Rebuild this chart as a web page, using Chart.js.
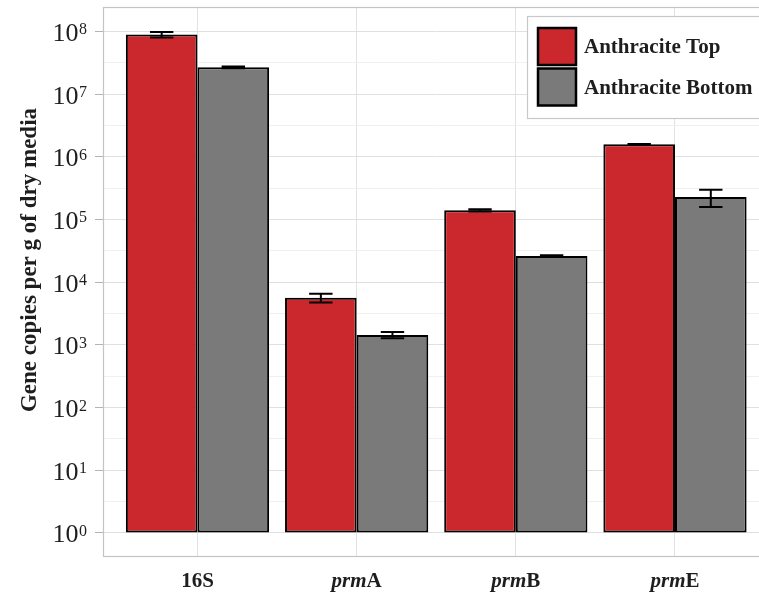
<!DOCTYPE html>
<html>
<head>
<meta charset="utf-8">
<script src="https://cdn.jsdelivr.net/npm/chart.js@4.4.1/dist/chart.umd.min.js"></script>
<style>
    html, body { margin: 0; padding: 0; background: #fff; overflow: hidden; }
    #wrap { position: relative; width: 780px; height: 595px; }
</style>
</head>
<body>
<div id="wrap"><canvas id="chart"></canvas></div>
<script>
(function () {
    "use strict";

    // data
    const categories = ["16S", "prmA", "prmB", "prmE"];
    const seriesNames = ["Anthracite Top", "Anthracite Bottom"];
    const topValues = [8.9e7, 5650, 1.40e5, 1.58e6];
    const topErrors = [9.0e6, 900, 6.0e3, 1.5e4];
    const bottomValues = [2.67e7, 1440, 2.62e4, 2.28e5];
    const bottomErrors = [8.0e5, 160, 650, 7.0e4];
    const yExponents = [0, 1, 2, 3, 4, 5, 6, 7, 8];

    const RED = "#cb282d";
    const GREY = "#7a7a7a";
    const SERIF = '"Liberation Serif", "DejaVu Serif", serif';
    const TEXT = "#1e1e1e";

    const toPoints = (vals) => vals.map((v, i) => ({ x: i + 1, y: v }));
    const errorsBySeries = [topErrors, bottomErrors];
    const valuesBySeries = [topValues, bottomValues];
    const colors = [RED, GREY];

    // major ticks at each decade, minor ones half way (log space)
    const yTicks = [];
    yExponents.forEach((e, i) => {
        yTicks.push({ value: Math.pow(10, e), major: true });
        if (i < yExponents.length - 1) yTicks.push({ value: Math.pow(10, e + 0.5), major: false });
    });

    const overlay = {
        id: "overlay",
        afterDatasetsDraw(chart) {
            const ctx = chart.ctx;
            const yScale = chart.scales.y;
            ctx.save();
            ctx.strokeStyle = "#000";
            ctx.lineWidth = 2;
            valuesBySeries.forEach((vals, d) => {
                const meta = chart.getDatasetMeta(d);
                vals.forEach((v, j) => {
                    const e = errorsBySeries[d][j];
                    const x = meta.data[j].x;
                    const y1 = yScale.getPixelForValue(v + e);
                    const y2 = yScale.getPixelForValue(v - e);
                    ctx.beginPath();
                    ctx.moveTo(x, y1); ctx.lineTo(x, y2);
                    ctx.moveTo(x - 11.7, y1); ctx.lineTo(x + 11.7, y1);
                    ctx.moveTo(x - 11.7, y2); ctx.lineTo(x + 11.7, y2);
                    ctx.stroke();
                });
            });
            ctx.restore();
        },
        afterDraw(chart) {
            const ctx = chart.ctx;
            const a = chart.chartArea;
            const xScale = chart.scales.x;
            const yScale = chart.scales.y;
            ctx.save();

            // panel border
            ctx.strokeStyle = "#c4c4c4";
            ctx.lineWidth = 1.2;
            ctx.strokeRect(a.left + 0.5, a.top + 0.5, a.right - a.left - 1, a.bottom - a.top - 1);

            // y tick labels 10^n
            ctx.fillStyle = TEXT;
            ctx.textBaseline = "alphabetic";
            yExponents.forEach((e) => {
                const y = yScale.getPixelForValue(Math.pow(10, e));
                ctx.font = "16px " + SERIF;
                const expW = ctx.measureText(String(e)).width;
                const expX = 87 - expW;
                ctx.textAlign = "left";
                ctx.fillText(String(e), expX, y + 3);
                ctx.font = "26px " + SERIF;
                ctx.textAlign = "right";
                ctx.fillText("10", expX - 0.5, y + 9.5);
            });

            // x labels, gene prefix in italics
            ctx.textAlign = "left";
            categories.forEach((c, i) => {
                const x = xScale.getPixelForValue(i + 1);
                const parts = c.indexOf("prm") === 0
                    ? [["prm", "italic bold 21px " + SERIF], [c.slice(3), "bold 21px " + SERIF]]
                    : [[c, "bold 21px " + SERIF]];
                let total = 0;
                parts.forEach((p) => { ctx.font = p[1]; total += ctx.measureText(p[0]).width; });
                let cx = x - total / 2;
                parts.forEach((p) => {
                    ctx.font = p[1];
                    ctx.fillText(p[0], cx, 587);
                    cx += ctx.measureText(p[0]).width;
                });
            });

            // y title
            ctx.save();
            ctx.translate(30, 260);
            ctx.rotate(-Math.PI / 2);
            ctx.textAlign = "center";
            ctx.textBaseline = "middle";
            ctx.font = "bold 23px " + SERIF;
            ctx.fillText("Gene copies per g of dry media", 0, 0);
            ctx.restore();

            // legend inside the panel
            ctx.fillStyle = "#fff";
            ctx.fillRect(527, 16, 260, 102);
            ctx.strokeStyle = "#c8c8c8";
            ctx.lineWidth = 1.2;
            ctx.strokeRect(527.5, 16.5, 260, 102);
            seriesNames.forEach((name, s) => {
                const ky = 28 + s * 40.5;
                ctx.fillStyle = colors[s];
                ctx.fillRect(538, ky, 38, 37);
                ctx.strokeStyle = "#000";
                ctx.lineWidth = 2.5;
                ctx.strokeRect(538, ky, 38, 37);
                ctx.fillStyle = TEXT;
                ctx.font = "bold 21px " + SERIF;
                ctx.textAlign = "left";
                ctx.textBaseline = "alphabetic";
                ctx.fillText(name, 584, 53 + s * 40.5);
            });

            ctx.restore();
        }
    };

    new Chart(document.getElementById("chart"), {
        type: "bar",
        data: {
            datasets: [
                {
                    label: seriesNames[0],
                    data: toPoints(topValues),
                    backgroundColor: RED,
                    borderColor: "#000",
                    borderWidth: 2,
                    borderSkipped: false,
                    base: 1,
                },
                {
                    label: seriesNames[1],
                    data: toPoints(bottomValues),
                    backgroundColor: GREY,
                    borderColor: "#000",
                    borderWidth: 2,
                    borderSkipped: false,
                    base: 1,
                },
            ],
        },
        options: {
            responsive: true,
            maintainAspectRatio: false,
            animation: false,
            categoryPercentage: 0.9,
            barPercentage: 1.0,
            layout: { padding: { top: 7, right: 10, left: 0, bottom: 0 } },
            plugins: {
                legend: { display: false },
                tooltip: { enabled: false },
            },
            scales: {
                x: {
                    type: "linear",
                    min: 0.4063,
                    max: 4.597,
                    bounds: "data",
                    offset: false,
                    afterBuildTicks: (scale) => {
                        scale.ticks = categories.map((c, i) => ({ value: i + 1 }));
                    },
                    afterFit: (scale) => { scale.height = 38; },
                    ticks: { display: false },
                    grid: { color: "#e2e2e2", lineWidth: 1, drawTicks: false, offset: false },
                    border: { display: false },
                },
                y: {
                    type: "logarithmic",
                    position: "left",
                    min: Math.pow(10, -0.383),
                    max: Math.pow(10, 8.389),
                    bounds: "data",
                    afterBuildTicks: (scale) => {
                        scale.ticks = yTicks.map((t) => ({ value: t.value, major: t.major }));
                    },
                    afterFit: (scale) => { scale.width = 103; },
                    ticks: { display: false },
                    grid: {
                        color: (c) => (c.tick && c.tick.major ? "#e0e0e0" : "#f0f0f0"),
                        tickColor: (c) => (c.tick && c.tick.major ? "#b3b3b3" : "rgba(0,0,0,0)"),
                        tickLength: 8,
                        lineWidth: 1,
                    },
                    border: { display: false },
                },
            },
        },
        plugins: [overlay],
    });
})();
</script>
</body>
</html>
